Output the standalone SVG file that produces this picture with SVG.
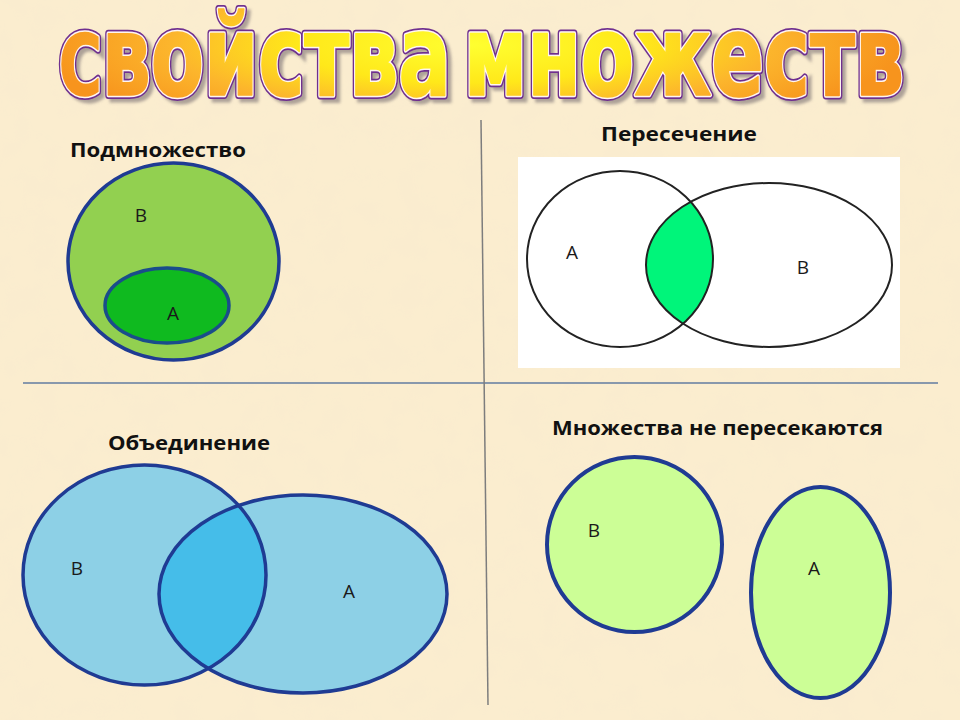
<svg xmlns="http://www.w3.org/2000/svg" width="960" height="720" viewBox="0 0 960 720">
  <defs>
    <filter id="paper" x="0" y="0" width="100%" height="100%">
      <feTurbulence type="fractalNoise" baseFrequency="0.035" numOctaves="3" seed="7" result="n"/>
      <feColorMatrix in="n" type="matrix" values="0 0 0 0 0.93  0 0 0 0 0.82  0 0 0 0 0.62  0 0 0 0.55 -0.18" result="c"/>
      <feComposite in="c" in2="SourceGraphic" operator="in"/>
    </filter>
    <radialGradient id="titleGrad" gradientUnits="userSpaceOnUse" cx="470" cy="45" r="430" gradientTransform="translate(470,45) scale(1,0.22) translate(-470,-45)">
      <stop offset="0" stop-color="#ffff30"/>
      <stop offset="0.4" stop-color="#ffe81a"/>
      <stop offset="0.7" stop-color="#fcb52c"/>
      <stop offset="1" stop-color="#f7941d"/>
    </radialGradient>
    <filter id="shadow" x="-5%" y="-20%" width="110%" height="140%">
      <feGaussianBlur stdDeviation="1.5"/>
    </filter>
    <clipPath id="clipIntA">
      <ellipse cx="620" cy="259" rx="93" ry="88"/>
    </clipPath>
    <clipPath id="clipUnionB">
      <ellipse cx="144.5" cy="575" rx="121.5" ry="110"/>
    </clipPath>
    <text id="titleText" x="59" y="95" textLength="845" lengthAdjust="spacingAndGlyphs" word-spacing="-18" font-family="'DejaVu Sans Condensed', 'Liberation Sans Narrow', 'Liberation Sans', sans-serif" font-weight="bold" font-size="112"><tspan font-size="84">С</tspan>войства множеств</text>
  </defs>
  <style>
    .head { font-family: "Open Sans", "Noto Sans", "Liberation Sans", sans-serif; font-weight: bold; font-size: 20px; fill: #111; }
    .lbl { font-family: "Open Sans", "Noto Sans", "Liberation Sans", sans-serif; font-size: 19px; fill: #1a1a1a; text-anchor: middle; }
    .blue { stroke: #1f3b93; stroke-width: 3.5; }
  </style>

  <rect width="960" height="720" fill="#fbedcf"/>
  <rect width="960" height="720" fill="#fbedcf" filter="url(#paper)"/>

  <g id="title">
    <use href="#titleText" transform="translate(4,4)" fill="#9a8f8a" stroke="#9a8f8a" stroke-width="7" filter="url(#shadow)" opacity="0.8"/>
    <use href="#titleText" fill="#6f2f8f" stroke="#6f2f8f" stroke-width="8" stroke-linejoin="round"/>
    <use href="#titleText" fill="url(#titleGrad)" stroke="#fff6f0" stroke-width="4.5" stroke-linejoin="round"/>
    <use href="#titleText" fill="url(#titleGrad)" stroke="url(#titleGrad)" stroke-width="1.5" stroke-linejoin="round"/>
  </g>

  <g id="dividers">
    <line x1="23" y1="383" x2="938" y2="383" stroke="#8898ac" stroke-width="2"/>
    <line x1="481" y1="120" x2="488" y2="705" stroke="#7d7d7d" stroke-width="1.5"/>
  </g>

  <g id="subset">
    <text class="head" x="70" y="157" textLength="176" lengthAdjust="spacingAndGlyphs">Подмножество</text>
    <ellipse cx="173.5" cy="261.5" rx="105.5" ry="98.5" fill="#92d050" class="blue"/>
    <ellipse cx="167" cy="305.5" rx="62" ry="37.5" fill="#0fba1f" stroke="#1a4d8a" stroke-width="3.5"/>
    <text class="lbl" x="141" y="222">B</text>
    <text class="lbl" x="173" y="320">A</text>
  </g>

  <g id="intersection">
    <text class="head" x="601" y="141" textLength="156" lengthAdjust="spacingAndGlyphs">Пересечение</text>
    <rect x="518" y="157" width="382" height="211" fill="#ffffff"/>
    <ellipse cx="769" cy="265" rx="123" ry="82" fill="#00f57a" clip-path="url(#clipIntA)"/>
    <ellipse cx="620" cy="259" rx="93" ry="88" fill="none" stroke="#222" stroke-width="2"/>
    <ellipse cx="769" cy="265" rx="123" ry="82" fill="none" stroke="#222" stroke-width="2"/>
    <text class="lbl" x="572" y="259">A</text>
    <text class="lbl" x="803" y="274">B</text>
  </g>

  <g id="union">
    <text class="head" x="108" y="450" textLength="162" lengthAdjust="spacingAndGlyphs">Объединение</text>
    <ellipse cx="144.5" cy="575" rx="121.5" ry="110" fill="#8dd0e6"/>
    <ellipse cx="303" cy="594" rx="144" ry="99" fill="#8dd0e6"/>
    <ellipse cx="303" cy="594" rx="144" ry="99" fill="#45bde9" clip-path="url(#clipUnionB)"/>
    <ellipse cx="144.5" cy="575" rx="121.5" ry="110" fill="none" class="blue"/>
    <ellipse cx="303" cy="594" rx="144" ry="99" fill="none" class="blue"/>
    <text class="lbl" x="77" y="575">B</text>
    <text class="lbl" x="349" y="598">A</text>
  </g>

  <g id="disjoint">
    <text class="head" x="552" y="435" textLength="331" lengthAdjust="spacingAndGlyphs">Множества не пересекаются</text>
    <ellipse cx="634.5" cy="544.5" rx="87.5" ry="87.5" fill="#ccfe96" stroke="#1f3b93" stroke-width="4"/>
    <ellipse cx="820.5" cy="592.5" rx="69.5" ry="105.5" fill="#ccfe96" stroke="#1f3b93" stroke-width="4"/>
    <text class="lbl" x="594" y="537">B</text>
    <text class="lbl" x="814" y="575">A</text>
  </g>
</svg>
